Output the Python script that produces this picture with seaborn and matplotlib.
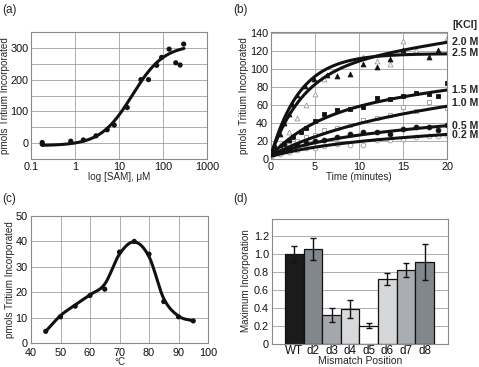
import numpy as np
import pandas as pd
import matplotlib
matplotlib.use("Agg")
import matplotlib.pyplot as plt
import seaborn as sns

sns.set_theme(style="white")
plt.rcParams['font.family'] = ['Liberation Sans', 'DejaVu Sans']

# ---------------- data ----------------
# (a) SAM titration
sam_conc = [0.18, 0.18, 0.8, 1.55, 3.0, 5.4, 7.8, 15.4, 31.5, 46.8, 72, 93, 138, 195, 245, 295]
sam_tritium = [2, -3, 6, 10, 23, 42, 57, 112, 200, 200, 245, 270, 296, 253, 246, 312]
hill_bottom, hill_top, hill_ec50, hill_n = -8.0, 310.0, 20.0, 1.2

# (b) KCl time courses
kcl_labels = ['2.0 M', '2.5 M', '1.5 M', '1.0 M', '0.5 M', '0.2 M']
t_20 = [0, 0.5, 1, 2, 3, 4, 5, 6, 10.5, 12, 13.5, 15, 16.5, 20]
v_20 = [4, 8, 16, 30, 45, 60, 72, 89, 113, 109, 106, 131, 121, 134]
t_25 = [0, 0.5, 1, 1.5, 2, 2.4, 2.9, 3.9, 4.9, 6.4, 7.5, 9, 10.5, 12, 13.5, 15, 18, 19]
v_25 = [5, 14, 28, 40, 50, 61, 71, 81, 89, 93, 92, 94, 105, 102, 111, 121, 113, 121]
t_15 = [0, 0.5, 1, 1.5, 2, 2.5, 3.4, 4, 5, 6, 7.5, 9, 10.5, 12, 13.5, 15, 16.5, 18, 19, 20]
v_15 = [4, 8, 12, 17, 20, 24, 30, 34, 42, 50, 54, 55, 58, 68, 67, 70, 73, 72, 70, 84]
t_10 = [0, 1, 2, 3, 4, 5, 6, 7.5, 9, 10.5, 12, 13.5, 15, 16.5, 18, 20]
v_10 = [4, 10, 15, 20, 24, 27, 32, 34, 38, 43, 45, 49, 58, 53, 63, 57]
t_05 = [0, 1, 2, 3, 4, 5, 6, 7.5, 9, 10.5, 12, 13.5, 15, 16.5, 18, 19, 20]
v_05 = [5, 8, 11, 15, 18, 20, 21, 24, 28, 30, 30, 28, 33, 35, 36, 32, 38]
t_02 = [0, 1, 2, 3, 4, 5, 6, 7.5, 9, 10.5, 12, 13.5, 15, 16.5, 18, 19, 20]
v_02 = [3, 6, 8, 10, 12, 12, 14, 17, 15, 16, 21, 21, 22, 24, 25, 25, 27]
# fit parameters y = y0 + A(1-exp(-k t)) + m t
fit_y0 = [5, 4, 4, 4, 4, 3]
fit_A = [95, 113, 52, 40, 20, 14]
fit_k = [0.27, 0.30, 0.18, 0.10, 0.15, 0.15]
fit_m = [1.5, 0.0, 1.1, 1.0, 0.7, 0.55]
label_y = [130, 118, 77, 62, 37, 27]

# (c) temperature
temp_c = [45, 50, 55, 60, 65, 70, 75, 80, 85, 90, 95]
temp_tritium = [4.6, 10.3, 14.5, 18.7, 21.2, 35.8, 40, 35, 16.3, 10.3, 8.7]
temp_curve = [4.6, 10.8, 15.0, 19.0, 23.2, 35.0, 39.8, 34.0, 17.5, 10.6, 8.7]

# (d) mismatch position
positions = ['WT', 'd2', 'd3', 'd4', 'd5', 'd6', 'd7', 'd8']
max_incorp = [1.00, 1.06, 0.32, 0.39, 0.20, 0.72, 0.82, 0.91]
max_err = [0.09, 0.12, 0.08, 0.10, 0.03, 0.07, 0.08, 0.20]
bar_colors = ['#1b1b1b', '#80878f', '#a3a8ae', '#d6d8db', '#ffffff', '#d5d7d9', '#a9aeb3', '#80878e']

# ---------------- figure ----------------
W, H = 479, 367
fig = plt.figure(figsize=(W / 100, H / 100), dpi=100)


def axpos(x0, y0, x1, y1):
    return [x0 / W, 1 - y1 / H, (x1 - x0) / W, (y1 - y0) / H]


ax_a = fig.add_axes(axpos(31, 32, 207, 159))
ax_b = fig.add_axes(axpos(271, 32, 447, 159))
ax_c = fig.add_axes(axpos(31, 216, 208, 343))
ax_d = fig.add_axes(axpos(271.7, 218.5, 448, 343.5))

GRID = '#a0a0a0'
SPINE = '#8a8a8a'
TFS = 7.8
LFS = 7.1


def style(ax):
    for s in ax.spines.values():
        s.set_color(SPINE)
        s.set_linewidth(0.8)
    ax.tick_params(axis='both', labelsize=TFS, length=0, pad=2, colors='#111111')
    ax.set_axisbelow(True)


# (a)
style(ax_a)
ax_a.set_xscale('log')
xs = np.logspace(np.log10(0.18), np.log10(300), 200)
ys = hill_bottom + (hill_top - hill_bottom) / (1 + (hill_ec50 / xs) ** hill_n)
sns.lineplot(x=xs, y=ys, ax=ax_a, color='#111111', lw=2.2, sort=False)
sns.scatterplot(x=sam_conc, y=sam_tritium, ax=ax_a, color='#111111', s=14, edgecolor='none')
ax_a.set_xlim(0.1, 1000)
ax_a.set_ylim(-45, 350)
ax_a.set_xticks([0.1, 1, 10, 100, 1000])
ax_a.set_xticklabels(['0.1', '1', '10', '100', '1000'])
ax_a.xaxis.set_minor_locator(matplotlib.ticker.NullLocator())
ax_a.set_yticks([0, 100, 200, 300])
ax_a.set_yticks([-50, 50, 150, 250], minor=True)
ax_a.grid(True, which='both', color=GRID, lw=0.6)
ax_a.tick_params(which='minor', length=0)
ax_a.set_xlabel('log [SAM], μM', fontsize=LFS, labelpad=0)
ax_a.set_ylabel('pmols Tritium Incorporated', fontsize=LFS, labelpad=0)

# (b)
style(ax_b)
series_t = [t_20, t_25, t_15, t_10, t_05, t_02]
series_v = [v_20, v_25, v_15, v_10, v_05, v_02]
markers = ['^', '^', 's', 's', 'o', 'o']
filled = [False, True, True, False, True, False]
tt = np.linspace(0, 20, 200)
for i in range(6):
    fc = '#111111' if filled[i] else 'white'
    ec = '#111111' if filled[i] else '#9a9a9a'
    sns.scatterplot(x=series_t[i], y=series_v[i], ax=ax_b, marker=markers[i],
                    facecolor=fc, edgecolor=ec, s=12, linewidth=0.6, zorder=2)
for i in range(6):
    yy = fit_y0[i] + fit_A[i] * (1 - np.exp(-fit_k[i] * tt)) + fit_m[i] * tt
    sns.lineplot(x=tt, y=yy, ax=ax_b, color='#111111', lw=2.2, sort=False, zorder=3)
    ax_b.text(1.03, label_y[i], kcl_labels[i], transform=ax_b.get_yaxis_transform(),
              fontsize=7.6, fontweight='bold', va='center', ha='left', clip_on=False)
ax_b.text(1.03, 149, '[KCl]', transform=ax_b.get_yaxis_transform(),
          fontsize=7.6, fontweight='bold', va='center', ha='left', clip_on=False)
ax_b.set_xlim(0, 20)
ax_b.set_ylim(0, 141)
ax_b.set_xticks([0, 5, 10, 15, 20])
ax_b.set_yticks(list(range(0, 141, 20)))
ax_b.grid(True, color=GRID, lw=0.6)
ax_b.set_xlabel('Time (minutes)', fontsize=LFS, labelpad=0)
ax_b.set_ylabel('pmols Tritium Incorporated', fontsize=LFS, labelpad=0.5)

# (c) smooth cubic Hermite curve through the points
style(ax_c)
px = np.array(temp_c, float)
py = np.array(temp_curve, float)
cx, cy = [], []
n = len(px)
for i in range(n - 1):
    p0 = i - 1 if i > 0 else 0
    p3 = i + 2 if i + 2 < n else n - 1
    u = np.linspace(0, 1, 30)
    h = px[i + 1] - px[i]
    m1 = (py[i + 1] - py[p0]) / (px[i + 1] - px[p0]) * h
    m2 = (py[p3] - py[i]) / (px[p3] - px[i]) * h
    h00 = 2 * u**3 - 3 * u**2 + 1
    h10 = u**3 - 2 * u**2 + u
    h01 = -2 * u**3 + 3 * u**2
    h11 = u**3 - u**2
    cx.extend(px[i] + u * h)
    cy.extend(h00 * py[i] + h10 * m1 + h01 * py[i + 1] + h11 * m2)
sns.lineplot(x=cx, y=cy, ax=ax_c, color='#111111', lw=2.2, sort=False)
sns.scatterplot(x=temp_c, y=temp_tritium, ax=ax_c, color='#111111', s=14, edgecolor='none')
ax_c.set_xlim(40, 100)
ax_c.set_ylim(0, 50)
ax_c.set_xticks(list(range(40, 101, 10)))
ax_c.set_yticks(list(range(0, 51, 10)))
ax_c.tick_params(axis='x', pad=3.5)
ax_c.tick_params(axis='y', pad=2.5)
ax_c.grid(True, color=GRID, lw=0.6)
ax_c.set_xlabel('°C', fontsize=LFS, labelpad=-0.5)
ax_c.set_ylabel('pmols Tritium Incorporated', fontsize=LFS, labelpad=0)

# (d)
style(ax_d)
df = pd.DataFrame({'pos': positions, 'val': max_incorp})
sns.barplot(data=df, x='pos', y='val', hue='pos', palette=bar_colors, legend=False,
            ax=ax_d, width=1.0, edgecolor='#111111', linewidth=0.9, zorder=2)
ax_d.errorbar(x=np.arange(len(positions)), y=max_incorp, yerr=max_err, fmt='none',
              ecolor='#111111', elinewidth=1.0, capsize=2.5, capthick=1.0, zorder=3)
ax_d.set_xlim(-1.21, 8.25)
ax_d.set_ylim(0, 1.4)
ax_d.set_yticks([0, 0.2, 0.4, 0.6, 0.8, 1.0, 1.2])
ax_d.set_yticklabels(['0', '0.2', '0.4', '0.6', '0.8', '1.0', '1.2'])
ax_d.yaxis.grid(True, color=GRID, lw=0.6)
ax_d.tick_params(axis='x', labelsize=8.4, pad=1)
ax_d.set_xlabel('Mismatch Position', fontsize=LFS + 0.4, labelpad=-0.5)
ax_d.set_ylabel('Maximum Incorporation', fontsize=LFS, labelpad=2)

# panel letters
fig.text(2 / W, 1 - 10 / H, '(a)', fontsize=8.5, va='center', ha='left')
fig.text(233 / W, 1 - 10 / H, '(b)', fontsize=8.5, va='center', ha='left')
fig.text(2 / W, 1 - 199 / H, '(c)', fontsize=8.5, va='center', ha='left')
fig.text(233 / W, 1 - 199 / H, '(d)', fontsize=8.5, va='center', ha='left')

fig.savefig('out.png', dpi=100)
